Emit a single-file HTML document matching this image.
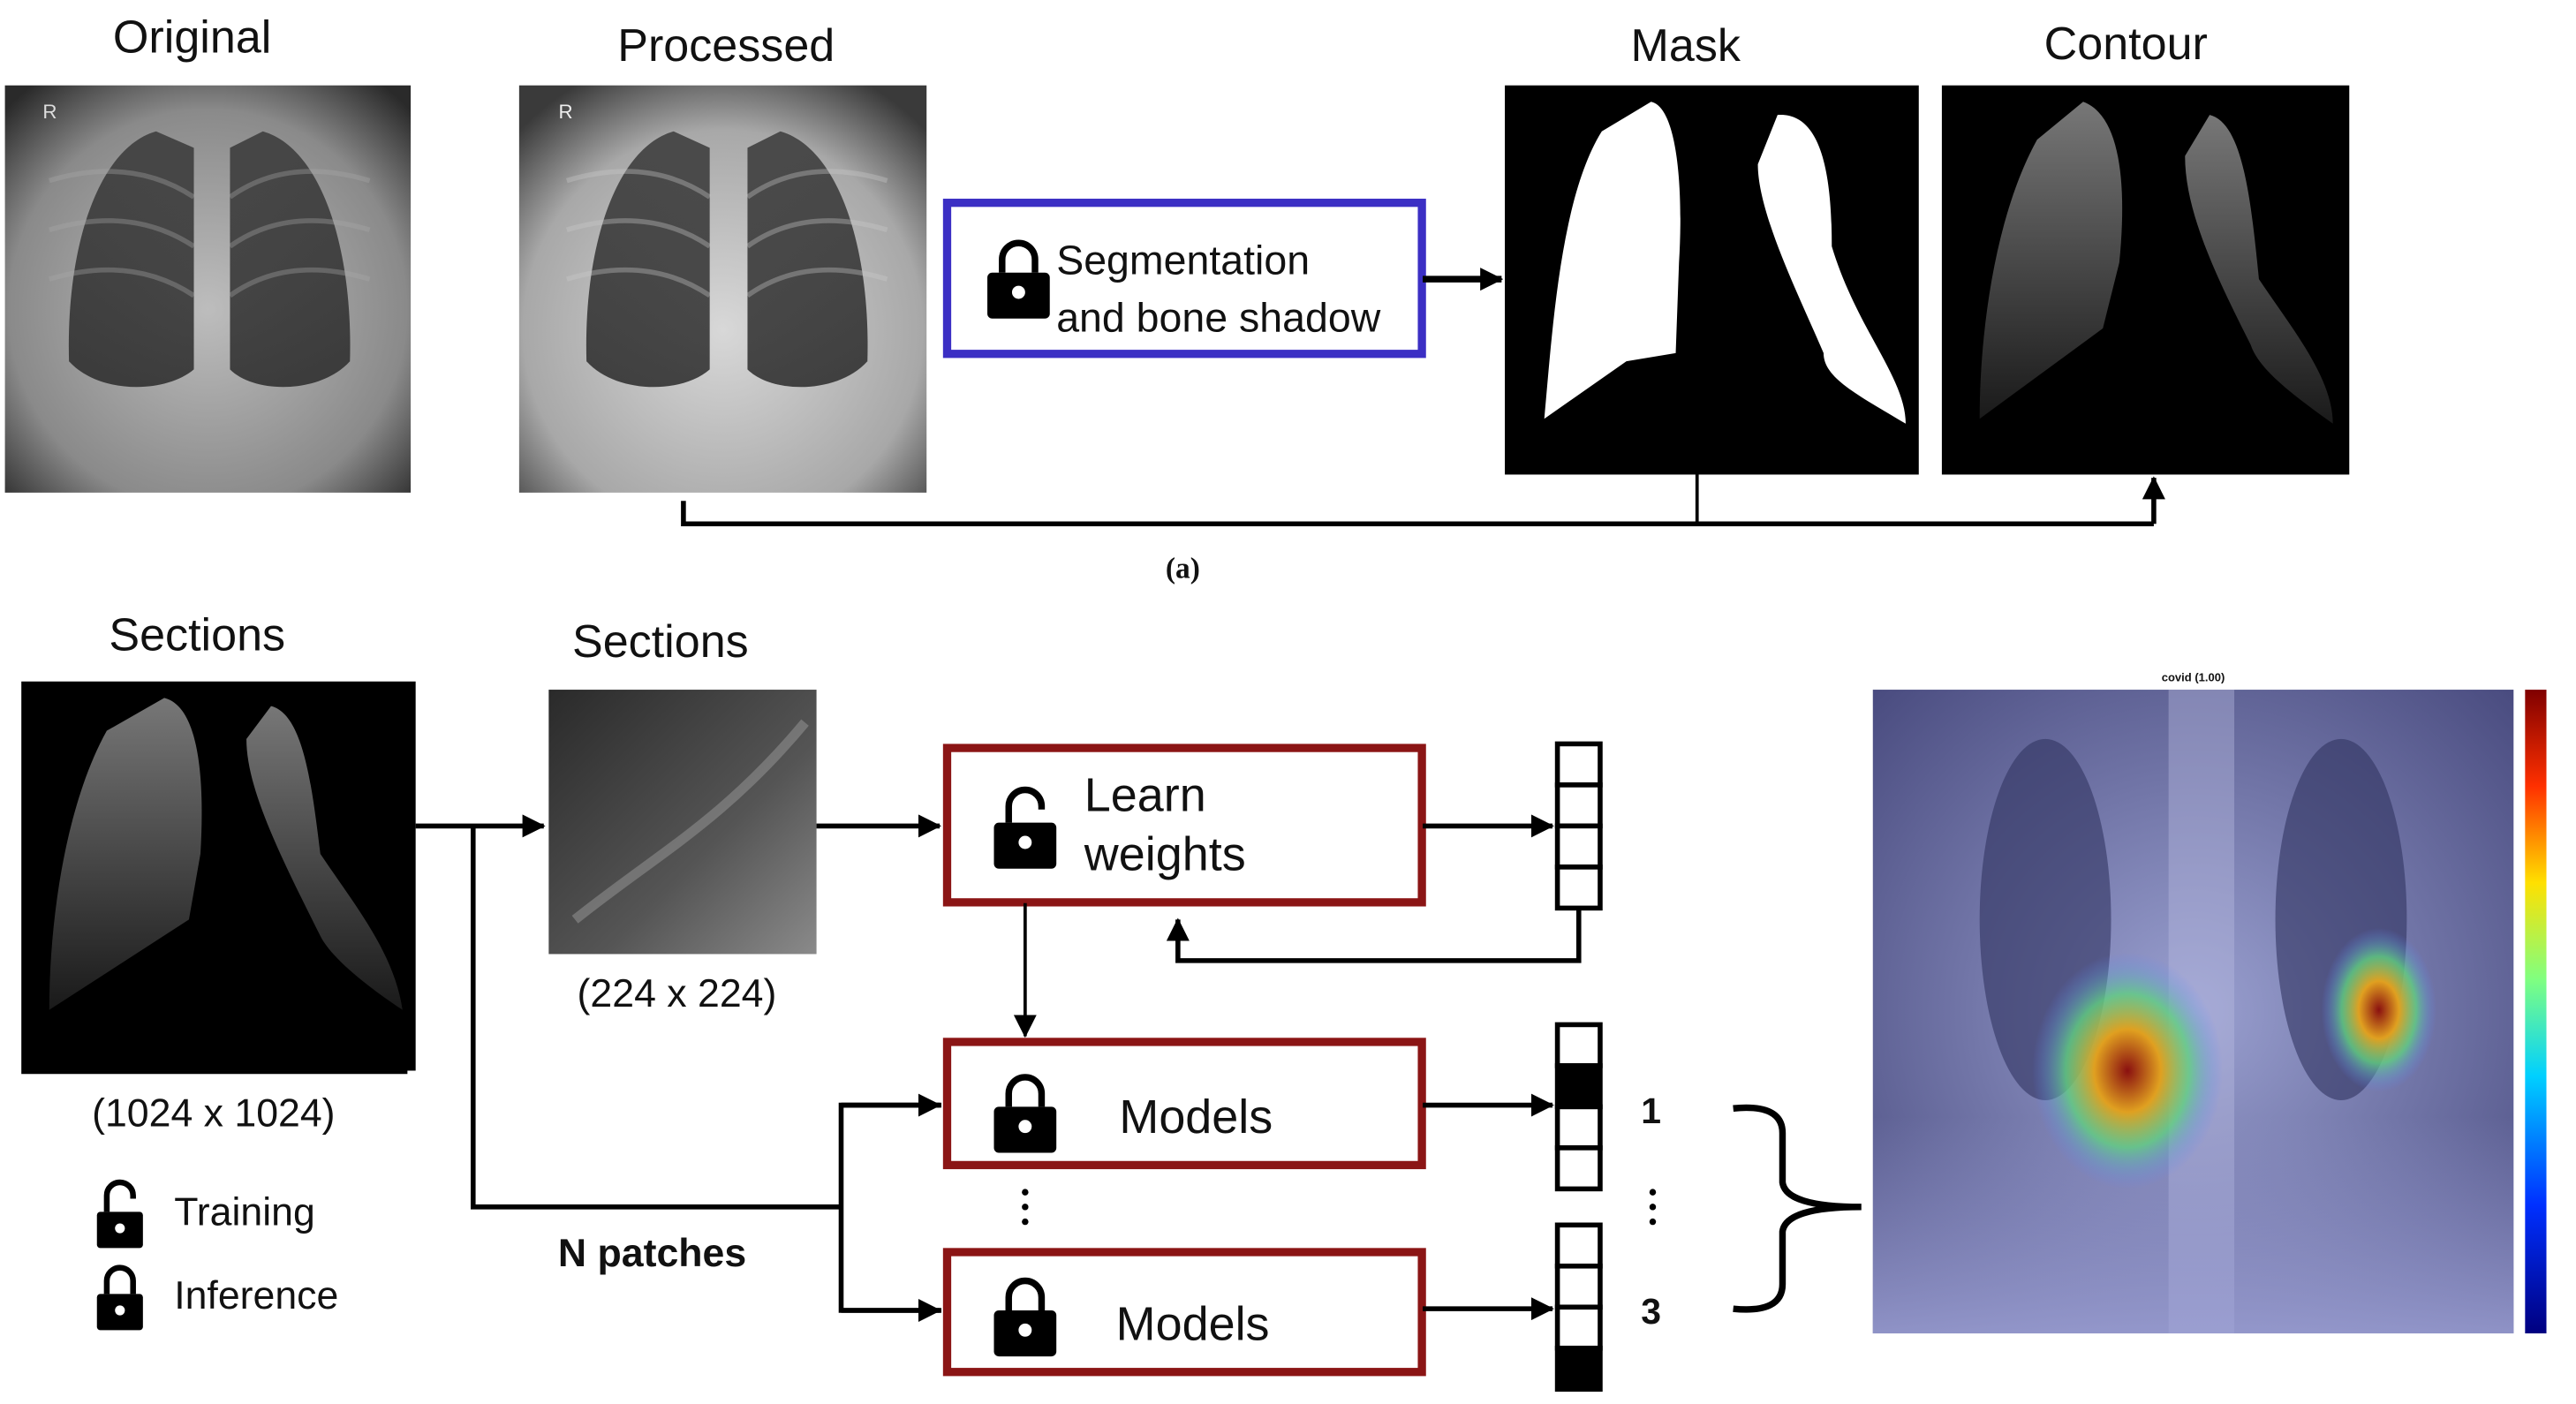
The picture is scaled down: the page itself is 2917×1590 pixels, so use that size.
<!DOCTYPE html>
<html><head><meta charset="utf-8"><style>
html,body{margin:0;padding:0;background:#fff;}
svg{display:block;}
text{font-family:"Liberation Sans",sans-serif;fill:#111;}
</style></head><body>
<svg width="2917" height="1590" viewBox="0 0 1568 855" preserveAspectRatio="none" xmlns="http://www.w3.org/2000/svg">
<defs>
<marker id="ahb" markerWidth="14" markerHeight="14" refX="13" refY="7" orient="auto" markerUnits="userSpaceOnUse"><path d="M0,0 L14,7 L0,14 z" fill="#000"/></marker>
<radialGradient id="xr" cx="0.5" cy="0.55" r="0.7"><stop offset="0" stop-color="#bdbdbd"/><stop offset="0.7" stop-color="#8a8a8a"/><stop offset="1" stop-color="#2a2a2a"/></radialGradient>
<radialGradient id="xr2" cx="0.5" cy="0.6" r="0.7"><stop offset="0" stop-color="#d8d8d8"/><stop offset="0.7" stop-color="#a8a8a8"/><stop offset="1" stop-color="#3a3a3a"/></radialGradient>
<linearGradient id="lung" x1="0" y1="0" x2="0" y2="1"><stop offset="0" stop-color="#3a3a3a"/><stop offset="1" stop-color="#2a2a2a"/></linearGradient>
<linearGradient id="ct" x1="0" y1="0" x2="0" y2="1"><stop offset="0" stop-color="#777"/><stop offset="1" stop-color="#1a1a1a"/></linearGradient>
<linearGradient id="patch" x1="0" y1="0" x2="1" y2="1"><stop offset="0" stop-color="#2a2a2a"/><stop offset="0.6" stop-color="#555"/><stop offset="1" stop-color="#8a8a8a"/></linearGradient>
<linearGradient id="cb" x1="0" y1="1" x2="0" y2="0"><stop offset="0" stop-color="#000080"/><stop offset="0.2" stop-color="#0030ff"/><stop offset="0.4" stop-color="#00d0ff"/><stop offset="0.55" stop-color="#80ff80"/><stop offset="0.7" stop-color="#ffe000"/><stop offset="0.85" stop-color="#ff3000"/><stop offset="1" stop-color="#800000"/></linearGradient>
<radialGradient id="hot" cx="0.5" cy="0.5" r="0.5"><stop offset="0" stop-color="#8a1010"/><stop offset="0.35" stop-color="#e0a020"/><stop offset="0.65" stop-color="#60d080" stop-opacity="0.8"/><stop offset="1" stop-color="#6080ff" stop-opacity="0"/></radialGradient>
<radialGradient id="hm" cx="0.5" cy="0.5" r="0.7"><stop offset="0" stop-color="#9aa0d0"/><stop offset="1" stop-color="#4a4c80"/></radialGradient>
<linearGradient id="hmb" x1="0" y1="0" x2="0" y2="1"><stop offset="0" stop-color="#a0a4d8" stop-opacity="0"/><stop offset="1" stop-color="#a0a4d8" stop-opacity="0.8"/></linearGradient>
</defs>

<text x="117" y="32" font-size="28" text-anchor="middle">Original</text>
<text x="442" y="37" font-size="28" text-anchor="middle">Processed</text>
<text x="1026" y="37" font-size="28" text-anchor="middle">Mask</text>
<text x="1294" y="36" font-size="28" text-anchor="middle">Contour</text>

<rect x="3" y="52" width="247" height="248" fill="url(#xr)"/>
<path d="M95,80 C60,90 40,150 42,220 C60,240 100,240 118,225 L118,90 Z" fill="url(#lung)" opacity="0.85"/>
<path d="M160,80 C195,90 215,150 213,220 C195,240 155,240 140,225 L140,90 Z" fill="url(#lung)" opacity="0.85"/>
<g stroke="#aaa" stroke-width="3" fill="none" opacity="0.35"><path d="M30,110 Q80,95 118,120"/><path d="M30,140 Q80,125 118,150"/><path d="M30,170 Q80,155 118,180"/><path d="M225,110 Q175,95 140,120"/><path d="M225,140 Q175,125 140,150"/><path d="M225,170 Q175,155 140,180"/></g>
<text x="26" y="72" font-size="12" style="fill:#ddd">R</text>

<rect x="316" y="52" width="248" height="248" fill="url(#xr2)"/>
<path d="M410,80 C375,90 355,150 357,220 C375,240 415,240 432,225 L432,90 Z" fill="url(#lung)" opacity="0.85"/>
<path d="M475,80 C510,90 530,150 528,220 C510,240 470,240 455,225 L455,90 Z" fill="url(#lung)" opacity="0.85"/>
<g stroke="#ccc" stroke-width="3" fill="none" opacity="0.35"><path d="M345,110 Q395,95 432,120"/><path d="M345,140 Q395,125 432,150"/><path d="M345,170 Q395,155 432,180"/><path d="M540,110 Q490,95 455,120"/><path d="M540,140 Q490,125 455,150"/><path d="M540,170 Q490,155 455,180"/></g>
<text x="340" y="72" font-size="12" style="fill:#eee">R</text>

<rect x="576.5" y="123.5" width="289" height="92" fill="#fff" stroke="#3b2fc4" stroke-width="5"/>
<g transform="translate(620,170)">
<path d="M-10,-4 v-8 a10,10 0 0 1 20,0 v8" fill="none" stroke="#000" stroke-width="4"/>
<rect x="-19" y="-4" width="38" height="28" rx="3" fill="#000"/>
<circle cx="0" cy="8" r="4" fill="#fff"/>
</g>
<text x="643" y="167" font-size="25">Segmentation</text>
<text x="643" y="202" font-size="25">and bone shadow</text>
<line x1="866" y1="170" x2="914" y2="170" stroke="#000" stroke-width="4" marker-end="url(#ahb)"/>

<rect x="916" y="52" width="252" height="237" fill="#000"/>
<path d="M1005,62 C1020,65 1025,110 1022,160 L1020,215 L990,220 L940,255 C945,200 950,120 975,80 Z" fill="#fff"/>
<path d="M1082,70 C1110,68 1115,110 1115,150 C1130,200 1160,230 1160,258 C1130,240 1110,230 1110,215 C1095,180 1070,130 1070,100 Z" fill="#fff"/>
<rect x="1168" y="52" width="14" height="237" fill="#fff"/>
<rect x="1182" y="52" width="248" height="237" fill="#000"/>
<path d="M1268,62 C1290,70 1295,110 1290,160 L1280,200 L1205,255 C1205,200 1215,130 1240,85 Z" fill="url(#ct)"/>
<path d="M1345,70 C1365,75 1370,120 1375,170 C1395,200 1420,230 1420,258 C1395,240 1375,225 1370,210 C1350,170 1330,130 1330,95 Z" fill="url(#ct)"/>

<polyline points="416,305 416,319 1311,319" fill="none" stroke="#000" stroke-width="3"/>
<line x1="1033" y1="288" x2="1033" y2="319" stroke="#000" stroke-width="2"/>
<line x1="1311" y1="319" x2="1311" y2="291" stroke="#000" stroke-width="3" marker-end="url(#ahb)"/>
<text x="720" y="352" font-size="18" font-weight="bold" text-anchor="middle" style="font-family:'Liberation Serif',serif">(a)</text>

<text x="120" y="396" font-size="28" text-anchor="middle">Sections</text>
<rect x="13" y="415" width="240" height="237" fill="#000"/>
<path d="M100,425 C120,430 125,470 122,520 L115,560 L30,615 C30,560 40,490 65,445 Z" fill="url(#ct)"/>
<path d="M165,430 C185,435 190,480 195,520 C215,550 240,580 245,615 C215,595 200,580 195,570 C170,520 150,480 150,450 Z" fill="url(#ct)"/>
<line x1="13" y1="653" x2="248" y2="653" stroke="#000" stroke-width="2"/>
<text x="130" y="686" font-size="24" text-anchor="middle">(1024 x 1024)</text>

<text x="402" y="400" font-size="28" text-anchor="middle">Sections</text>
<rect x="334" y="420" width="163" height="161" fill="url(#patch)"/>
<path d="M350,560 C400,520 440,500 490,440" stroke="#999" stroke-width="6" fill="none" opacity="0.5"/>
<text x="412" y="613" font-size="24" text-anchor="middle">(224 x 224)</text>

<line x1="253" y1="503" x2="331" y2="503" stroke="#000" stroke-width="3" marker-end="url(#ahb)"/>
<polyline points="288,503 288,735 512,735" fill="none" stroke="#000" stroke-width="3"/>
<polyline points="573,673 512,673 512,798 573,798" fill="none" stroke="#000" stroke-width="3"/>
<line x1="512" y1="673" x2="572" y2="673" stroke="#000" stroke-width="3" marker-end="url(#ahb)"/>
<line x1="512" y1="798" x2="572" y2="798" stroke="#000" stroke-width="3" marker-end="url(#ahb)"/>
<line x1="497" y1="503" x2="572" y2="503" stroke="#000" stroke-width="3" marker-end="url(#ahb)"/>
<text x="397" y="771" font-size="24" font-weight="bold" text-anchor="middle">N patches</text>

<rect x="576.5" y="455.5" width="289" height="94" fill="#fff" stroke="#8b1515" stroke-width="5"/>
<g transform="translate(624,505)">
<path d="M-10,-4 v-10 a10,10 0 0 1 20,0 v2" fill="none" stroke="#000" stroke-width="4"/>
<rect x="-19" y="-4" width="38" height="28" rx="3" fill="#000"/>
<circle cx="0" cy="8" r="4" fill="#fff"/>
</g>
<text x="660" y="494" font-size="29">Learn</text>
<text x="660" y="530" font-size="29">weights</text>
<line x1="866" y1="503" x2="945" y2="503" stroke="#000" stroke-width="3" marker-end="url(#ahb)"/>
<g fill="#fff" stroke="#000" stroke-width="3">
<rect x="948" y="453" width="26" height="25"/><rect x="948" y="478" width="26" height="25"/><rect x="948" y="503" width="26" height="25"/><rect x="948" y="528" width="26" height="25"/>
</g>
<polyline points="961,553 961,585 717,585 717,560" fill="none" stroke="#000" stroke-width="3" marker-end="url(#ahb)"/>
<line x1="624" y1="550" x2="624" y2="631" stroke="#000" stroke-width="2" marker-end="url(#ahb)"/>

<rect x="576.5" y="634.5" width="289" height="75" fill="#fff" stroke="#8b1515" stroke-width="5"/>
<g transform="translate(624,678)">
<path d="M-10,-4 v-8 a10,10 0 0 1 20,0 v8" fill="none" stroke="#000" stroke-width="4"/>
<rect x="-19" y="-4" width="38" height="28" rx="3" fill="#000"/>
<circle cx="0" cy="8" r="4" fill="#fff"/>
</g>
<text x="728" y="690" font-size="29" text-anchor="middle">Models</text>
<line x1="866" y1="673" x2="945" y2="673" stroke="#000" stroke-width="3" marker-end="url(#ahb)"/>
<g stroke="#000" stroke-width="3">
<rect x="948" y="624" width="26" height="25" fill="#fff"/><rect x="948" y="649" width="26" height="25" fill="#000"/><rect x="948" y="674" width="26" height="25" fill="#fff"/><rect x="948" y="699" width="26" height="25" fill="#fff"/>
</g>
<text x="1005" y="684" font-size="22" font-weight="bold" text-anchor="middle">1</text>

<g fill="#000"><circle cx="624" cy="726" r="2"/><circle cx="624" cy="735" r="2"/><circle cx="624" cy="744" r="2"/>
<circle cx="1006" cy="726" r="2"/><circle cx="1006" cy="735" r="2"/><circle cx="1006" cy="744" r="2"/></g>

<rect x="576.5" y="762.5" width="289" height="73" fill="#fff" stroke="#8b1515" stroke-width="5"/>
<g transform="translate(624,802)">
<path d="M-10,-4 v-8 a10,10 0 0 1 20,0 v8" fill="none" stroke="#000" stroke-width="4"/>
<rect x="-19" y="-4" width="38" height="28" rx="3" fill="#000"/>
<circle cx="0" cy="8" r="4" fill="#fff"/>
</g>
<text x="726" y="816" font-size="29" text-anchor="middle">Models</text>
<line x1="866" y1="797" x2="945" y2="797" stroke="#000" stroke-width="3" marker-end="url(#ahb)"/>
<g stroke="#000" stroke-width="3">
<rect x="948" y="746" width="26" height="25" fill="#fff"/><rect x="948" y="771" width="26" height="25" fill="#fff"/><rect x="948" y="796" width="26" height="25" fill="#fff"/><rect x="948" y="821" width="26" height="25" fill="#000"/>
</g>
<text x="1005" y="806" font-size="22" font-weight="bold" text-anchor="middle">3</text>

<path d="M1055,675 Q1085,672 1085,690 L1085,720 Q1087,735 1133,735 Q1087,735 1085,750 L1085,782 Q1085,800 1055,797" fill="none" stroke="#000" stroke-width="4"/>

<text x="1335" y="415" font-size="7" text-anchor="middle" font-weight="bold">covid (1.00)</text>
<rect x="1140" y="420" width="390" height="392" fill="url(#hm)"/>
<ellipse cx="1245" cy="560" rx="40" ry="110" fill="#303460" opacity="0.6"/>
<ellipse cx="1425" cy="560" rx="40" ry="110" fill="#303460" opacity="0.6"/>
<rect x="1320" y="420" width="40" height="392" fill="#b8bce0" opacity="0.4"/>
<rect x="1140" y="680" width="390" height="132" fill="url(#hmb)"/>
<ellipse cx="1295" cy="652" rx="58" ry="72" fill="url(#hot)"/>
<ellipse cx="1448" cy="615" rx="35" ry="50" fill="url(#hot)"/>
<rect x="1537" y="420" width="13" height="392" fill="url(#cb)"/>

<g transform="translate(73,742)">
<path d="M-8,-4 v-10 a8,8 0 0 1 16,0 v2" fill="none" stroke="#000" stroke-width="3.5"/>
<rect x="-14" y="-4" width="28" height="22" rx="2" fill="#000"/>
<circle cx="0" cy="6" r="3" fill="#fff"/>
</g>
<text x="106" y="746" font-size="24">Training</text>
<g transform="translate(73,792)">
<path d="M-8,-4 v-8 a8,8 0 0 1 16,0 v8" fill="none" stroke="#000" stroke-width="3.5"/>
<rect x="-14" y="-4" width="28" height="22" rx="2" fill="#000"/>
<circle cx="0" cy="6" r="3" fill="#fff"/>
</g>
<text x="106" y="797" font-size="24">Inference</text>
</svg>
</body></html>
